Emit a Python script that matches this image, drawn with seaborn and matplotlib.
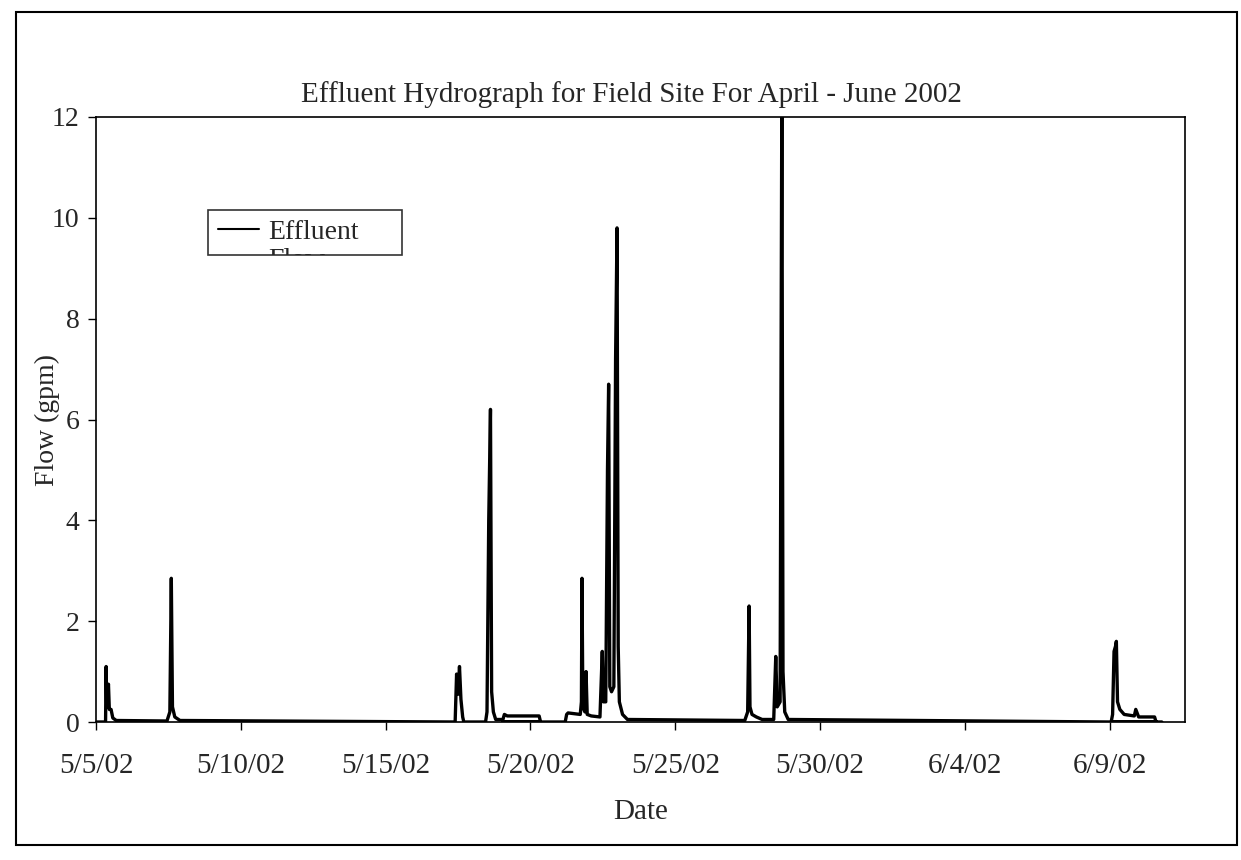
import numpy as np
import pandas as pd
import matplotlib
matplotlib.use("Agg")
import matplotlib.pyplot as plt
import seaborn as sns
from matplotlib.patches import Rectangle

# ---- data (days after 5/5/02 00:00, flow in gpm) ----
start_date = "2002-05-05"
days = [0.00, 0.33, 0.35, 0.37, 0.40, 0.43, 0.46, 0.52, 0.58, 0.70,
        2.45, 2.55, 2.60, 2.64, 2.72, 2.90,
        12.40, 12.45, 12.50, 12.55, 12.60, 12.66, 12.70,
        13.45, 13.50, 13.56, 13.62, 13.66, 13.72, 13.80,
        14.05, 14.10, 14.20, 15.30, 15.35, 14.05,
        16.20, 16.25, 16.30, 16.72, 16.76, 16.78, 16.81, 16.88, 16.92, 16.96,
        17.10, 17.40, 17.48, 17.52, 17.60, 17.66, 17.70, 17.74, 17.80, 17.88,
        17.94, 17.99, 18.03, 18.07, 18.18, 18.35,
        22.40, 22.50, 22.55, 22.58, 22.65, 22.80, 23.00,
        23.40, 23.47, 23.52, 23.62, 23.68, 23.72, 23.78, 23.90,
        35.05, 35.10, 35.15, 35.20, 35.23, 35.27, 35.35, 35.50,
        35.85, 35.90, 36.00, 36.55, 36.60, 35.05, 36.80]
flow = [0.00, 0.00, 1.10, 0.30, 0.55, 0.75, 0.25, 0.25, 0.08, 0.03,
        0.02, 0.20, 2.85, 0.30, 0.10, 0.03,
        0.00, 0.95, 0.55, 1.10, 0.45, 0.10, 0.00,
        0.00, 0.20, 4.00, 6.20, 0.60, 0.20, 0.05,
        0.05, 0.15, 0.12, 0.12, 0.00, 0.00,
        0.00, 0.15, 0.18, 0.15, 0.40, 2.85, 0.30, 0.20, 1.00, 0.15,
        0.12, 0.10, 1.40, 0.40, 0.40, 5.00, 6.70, 0.70, 0.60, 0.70,
        7.20, 9.80, 1.50, 0.40, 0.15, 0.05,
        0.03, 0.20, 2.30, 0.30, 0.15, 0.10, 0.05,
        0.05, 1.30, 0.30, 0.40, 12.50, 1.00, 0.20, 0.05,
        0.00, 0.15, 1.40, 1.50, 1.60, 0.40, 0.25, 0.15,
        0.12, 0.25, 0.10, 0.10, 0.00, 0.00, 0.00]
tick_days = [0, 5, 10, 15, 20, 25, 30, 35]
tick_labels = ["5/5/02", "5/10/02", "5/15/02", "5/20/02", "5/25/02",
               "5/30/02", "6/4/02", "6/9/02"]
y_ticks = [0, 2, 4, 6, 8, 10, 12]

t0 = pd.Timestamp(start_date)
df = pd.DataFrame({"Date": t0 + pd.to_timedelta(days, unit="D"),
                   "Flow": flow, "series": "Effluent"})

sns.set_style("white")
plt.rcParams["font.family"] = ["Liberation Serif", "DejaVu Serif"]

W, H = 1241, 860
fig = plt.figure(figsize=(W/100, H/100), dpi=100)
ax = fig.add_axes([96/W, 1-722/H, (1185-96)/W, (722-117)/H])

sns.lineplot(data=df, x="Date", y="Flow", hue="series", palette=["black"],
             sort=False, estimator=None, linewidth=2.4, ax=ax, legend=True)

ax.set_xlim(t0, t0 + pd.Timedelta(days=37.6))
ax.set_ylim(0, 12)
ax.set_yticks(y_ticks)
ax.set_yticklabels([str(v) for v in y_ticks], fontsize=20)
ax.set_xticks([t0 + pd.Timedelta(days=d) for d in tick_days])
ax.set_xticklabels(tick_labels, fontsize=21)
ax.tick_params(axis="both", direction="out", length=6, width=1, color="black",
               bottom=True, left=True)
ax.tick_params(axis="x", pad=16)
ax.tick_params(axis="y", pad=6)
for s in ax.spines.values():
    s.set_color("black")
    s.set_linewidth(1.2)

ax.set_xlabel("Date", fontsize=21)
ax.xaxis.set_label_coords(0.5, -0.128)
ax.set_ylabel("Flow (gpm)", fontsize=20)
ax.yaxis.set_label_coords(-0.033, 0.5)

leg = ax.legend(handles=ax.get_legend_handles_labels()[0], labels=["Effluent"],
                loc="upper left", mode="expand",
                bbox_to_anchor=((208-96)/1089, (722-210)/605 - 0.2, (402-208)/1089, 0.2),
                fontsize=20, frameon=True, fancybox=False, handlelength=1.5,
                handletextpad=0.3, borderpad=0.35, borderaxespad=0)
leg.get_frame().set_edgecolor("black")
leg.get_frame().set_linewidth(1.2)
for l in leg.get_lines():
    l.set_linewidth(1.5)

fig.text(631/W, 1 - 95/H, "Effluent Hydrograph for Field Site For April - June 2002",
         ha="center", va="center", fontsize=21)

fig.patches.append(Rectangle((16/W, 1-845/H), (1237-16)/W, (845-12)/H,
                             transform=fig.transFigure, fill=False,
                             edgecolor="black", linewidth=1.5))

# wrapped second line of the legend label, cut off by the legend box
fig.canvas.draw()
fb = leg.get_frame().get_window_extent()
tb = leg.get_texts()[0].get_window_extent()
flow_txt = fig.text(tb.x0 / W, (tb.y0 - 3) / H, "Flow", ha="left", va="top",
                    fontsize=20)
flow_txt.set_clip_box(fb)
flow_txt.set_clip_on(True)

fig.savefig("out.png", dpi=100)
